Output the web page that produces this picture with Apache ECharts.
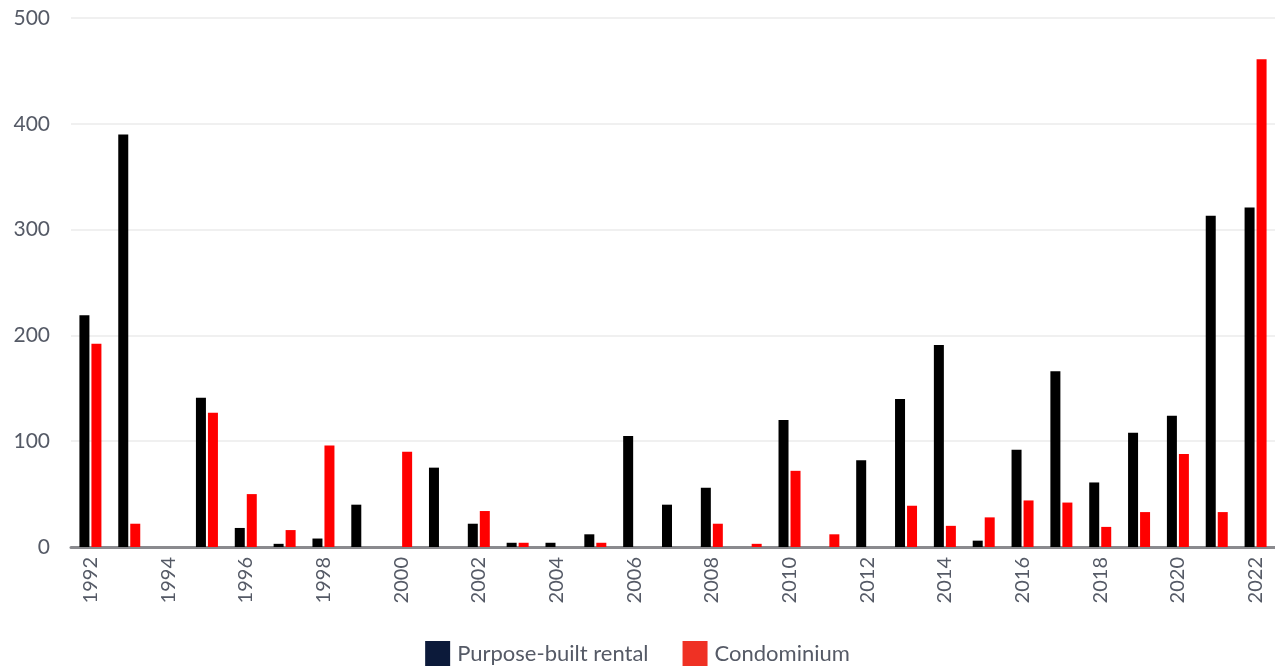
<!DOCTYPE html>
<html>
<head>
<meta charset="utf-8">
<script src="https://cdn.jsdelivr.net/npm/echarts@6/dist/echarts.min.js"></script>
<style>
html,body{margin:0;padding:0;background:#fff;}
#chart{width:1275px;height:667px;}
</style>
</head>
<body>
<div id="chart"></div>
<script>
const years = ['1992','1993','1994','1995','1996','1997','1998','1999','2000','2001','2002','2003','2004','2005','2006','2007','2008','2009','2010','2011','2012','2013','2014','2015','2016','2017','2018','2019','2020','2021','2022'];
const rental = [219,390,0,141,18,3,8,40,0,75,22,4,4,12,105,40,56,0,120,0,82,140,191,6,92,166,61,108,124,313,321];
const condo = [192,22,0,127,50,16,96,0,90,0,34,4,0,4,0,0,22,3,72,12,0,39,20,28,44,42,19,33,88,33,461];
const yTicks = [0,100,200,300,400,500];

const font = 'Lato, "Open Sans", sans-serif';
const textColor = '#555a66';

const chart = echarts.init(document.getElementById('chart'));
chart.setOption({
  animation: false,
  grid: {left: 71, right: 0, top: 18, bottom: 120, containLabel: false},
  legend: {
    bottom: 1,
    left: 'center',
    padding: 0,
    itemWidth: 25,
    itemHeight: 25,
    itemGap: 34,
    icon: 'rect',
    textStyle: {fontFamily: font, fontSize: 22, color: textColor, padding: [0,0,0,2]},
    data: [
      {name: 'Purpose-built rental', itemStyle: {color: '#0c1a3a'}},
      {name: 'Condominium', itemStyle: {color: '#ef3124'}}
    ]
  },
  xAxis: {
    type: 'category',
    data: years,
    axisTick: {show: false},
    axisLine: {lineStyle: {color: '#8a8a8e', width: 3}},
    axisLabel: {rotate: 90, interval: 1, margin: 10, fontFamily: font, fontSize: 20, color: textColor}
  },
  yAxis: {
    type: 'value',
    min: yTicks[0],
    max: yTicks[yTicks.length-1],
    interval: 100,
    axisLine: {show: false},
    axisTick: {show: false},
    splitLine: {lineStyle: {color: '#ebebeb', width: 1.5}},
    axisLabel: {margin: 21, fontFamily: font, fontSize: 21, color: textColor}
  },
  series: [
    {name: 'Purpose-built rental', type: 'bar', data: rental, barWidth: 10, barGap: '20%', itemStyle: {color: '#000000'}},
    {name: 'Condominium', type: 'bar', data: condo, barWidth: 10, itemStyle: {color: '#ff0000'}}
  ]
});
</script>
</body>
</html>
